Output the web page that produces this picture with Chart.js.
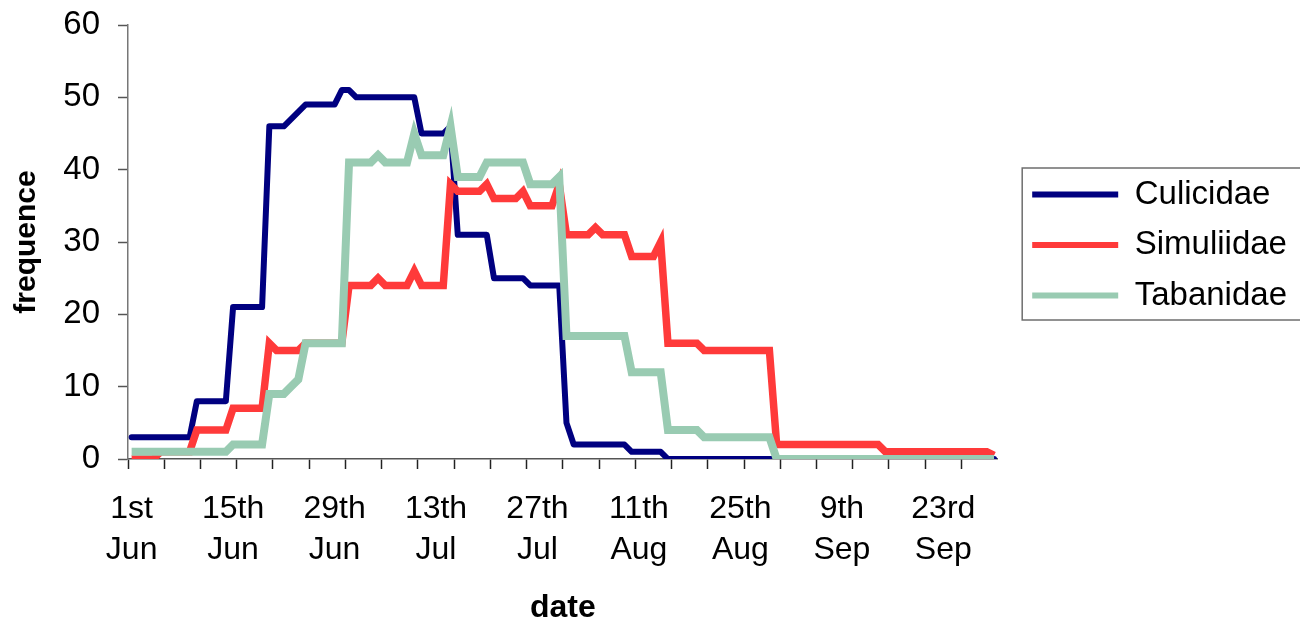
<!DOCTYPE html>
<html lang="en">
<head>
    <meta charset="UTF-8">
    <title>Frequence of Culicidae, Simuliidae and Tabanidae</title>
    <script src="https://cdn.jsdelivr.net/npm/chart.js"></script>
    <style>
        html, body { margin: 0; padding: 0; background: #fff; }
    </style>
</head>
<body>
    <canvas id="freqChart" width="1300" height="622"></canvas>
    <script>
        // one category per day of the season (120 days from 1st Jun)
        const days = Array.from({length: 120}, (_, i) => i);

        // labels shown every 14th day, tick marks every 5th day
        const tickLabels = [
            ['1st', 'Jun'], ['15th', 'Jun'], ['29th', 'Jun'], ['13th', 'Jul'], ['27th', 'Jul'],
            ['11th', 'Aug'], ['25th', 'Aug'], ['9th', 'Sep'], ['23rd', 'Sep']
        ];
        const labelStep = 14;
        const tickStep = 5;

        const culicidae = [
            3, 3, 3, 3, 3, 3, 3, 3, 3, 8,
            8, 8, 8, 8, 21, 21, 21, 21, 21, 46,
            46, 46, 47, 48, 49, 49, 49, 49, 49, 51,
            51, 50, 50, 50, 50, 50, 50, 50, 50, 50,
            45, 45, 45, 45, 46, 31, 31, 31, 31, 31,
            25, 25, 25, 25, 25, 24, 24, 24, 24, 24,
            5, 2, 2, 2, 2, 2, 2, 2, 2, 1,
            1, 1, 1, 1, 0, 0, 0, 0, 0, 0,
            0, 0, 0, 0, 0, 0, 0, 0, 0, 0,
            0, 0, 0, 0, 0, 0, 0, 0, 0, 0,
            0, 0, 0, 0, 0, 0, 0, 0, 0, 0,
            0, 0, 0, 0, 0, 0, 0, 0, 0, 0
        ];
        const simuliidae = [
            0, 0, 0, 0, 1, 1, 1, 1, 1, 4,
            4, 4, 4, 4, 7, 7, 7, 7, 7, 16,
            15, 15, 15, 15, 16, 16, 16, 16, 16, 16,
            24, 24, 24, 24, 25, 24, 24, 24, 24, 26,
            24, 24, 24, 24, 38, 37, 37, 37, 37, 38,
            36, 36, 36, 36, 37, 35, 35, 35, 35, 38,
            31, 31, 31, 31, 32, 31, 31, 31, 31, 28,
            28, 28, 28, 30, 16, 16, 16, 16, 16, 15,
            15, 15, 15, 15, 15, 15, 15, 15, 15, 2,
            2, 2, 2, 2, 2, 2, 2, 2, 2, 2,
            2, 2, 2, 2, 1, 1, 1, 1, 1, 1,
            1, 1, 1, 1, 1, 1, 1, 1, 1, 0.5
        ];
        const tabanidae = [
            1, 1, 1, 1, 1, 1, 1, 1, 1, 1,
            1, 1, 1, 1, 2, 2, 2, 2, 2, 9,
            9, 9, 10, 11, 16, 16, 16, 16, 16, 16,
            41, 41, 41, 41, 42, 41, 41, 41, 41, 45,
            42, 42, 42, 42, 46, 39, 39, 39, 39, 41,
            41, 41, 41, 41, 41, 38, 38, 38, 38, 39,
            17, 17, 17, 17, 17, 17, 17, 17, 17, 12,
            12, 12, 12, 12, 4, 4, 4, 4, 4, 3,
            3, 3, 3, 3, 3, 3, 3, 3, 3, 0,
            0, 0, 0, 0, 0, 0, 0, 0, 0, 0,
            0, 0, 0, 0, 0, 0, 0, 0, 0, 0,
            0, 0, 0, 0, 0, 0, 0, 0, 0, 0
        ];

        const fontFamily = "'Liberation Sans', Arial, sans-serif";

        // nudges the legend and draws the frame around it
        const legendFrame = {
            id: 'legendFrame',
            afterLayout(chart) {
                chart.legend.left += 17;
                chart.legend.right += 17;
                chart.legend.top += 3;
                chart.legend.bottom += 3;
            },
            afterDraw(chart) {
                const lg = chart.legend;
                const pad = lg.options.labels.padding;
                const colH = lg.columnSizes[0].height;
                const top = (lg.top + pad + lg.bottom - colH) / 2;
                const ctx = chart.ctx;
                ctx.save();
                ctx.strokeStyle = '#6e6e6e';
                ctx.lineWidth = 1.5;
                ctx.strokeRect(lg.left + pad - 10, top - 10, 400, colH - pad + 18);
                ctx.restore();
            }
        };

        const ctx = document.getElementById('freqChart').getContext('2d');
        new Chart(ctx, {
            type: 'line',
            data: {
                labels: days,
                datasets: [
                    {
                        label: 'Culicidae',
                        data: culicidae,
                        borderColor: '#000080',
                        backgroundColor: '#000080',
                        borderWidth: 6,
                        borderJoinStyle: 'round',
                        borderCapStyle: 'round',
                        order: 2
                    },
                    {
                        label: 'Simuliidae',
                        data: simuliidae,
                        borderColor: '#ff3a3a',
                        backgroundColor: '#ff3a3a',
                        borderWidth: 7.5,
                        borderJoinStyle: 'miter',
                        order: 1
                    },
                    {
                        label: 'Tabanidae',
                        data: tabanidae,
                        borderColor: '#99cbb2',
                        backgroundColor: '#99cbb2',
                        borderWidth: 8,
                        borderJoinStyle: 'miter',
                        order: 0
                    }
                ]
            },
            options: {
                responsive: false,
                animation: false,
                layout: { padding: { top: 25, right: 20, left: 0, bottom: 0 } },
                elements: {
                    point: { radius: 0, hoverRadius: 0 },
                    line: { tension: 0, fill: false }
                },
                plugins: {
                    tooltip: { enabled: false },
                    legend: {
                        position: 'right',
                        fullSize: false,
                        labels: {
                            boxWidth: 86,
                            boxHeight: 6,
                            padding: 17.5,
                            color: '#000',
                            font: { family: fontFamily, size: 33 },
                            sort: (a, b) => a.datasetIndex - b.datasetIndex,
                            generateLabels: (chart) =>
                                Chart.defaults.plugins.legend.labels.generateLabels(chart)
                                    .map(l => Object.assign(l, { lineWidth: 0, fillStyle: l.strokeStyle }))
                        }
                    }
                },
                scales: {
                    x: {
                        type: 'category',
                        offset: true,
                        grid: {
                            offset: true,
                            drawOnChartArea: false,
                            tickLength: 10,
                            tickWidth: 1.5,
                            tickColor: (c) => c.index % tickStep === 0 ? '#222' : 'rgba(0,0,0,0)'
                        },
                        border: { color: '#555', width: 1.5 },
                        ticks: {
                            autoSkip: false,
                            maxRotation: 0,
                            minRotation: 0,
                            padding: 19,
                            color: '#000',
                            font: { family: fontFamily, size: 32, lineHeight: 1.3 },
                            callback: (value, index) =>
                                index % labelStep === 0 ? tickLabels[index / labelStep] : ''
                        },
                        title: {
                            display: true,
                            text: 'date',
                            color: '#000',
                            font: { family: fontFamily, size: 32, weight: 'bold' },
                            padding: { top: -1.6, bottom: -5 }
                        }
                    },
                    y: {
                        min: 0,
                        max: 60,
                        grid: {
                            drawOnChartArea: false,
                            tickLength: 10,
                            tickWidth: 1.5,
                            tickColor: '#555'
                        },
                        border: { color: '#777', width: 1.5 },
                        ticks: {
                            stepSize: 10,
                            padding: 18,
                            color: '#000',
                            font: { family: fontFamily, size: 33, lineHeight: 0.4 }
                        },
                        title: {
                            display: true,
                            text: 'frequence',
                            color: '#000',
                            font: { family: fontFamily, size: 30, weight: 'bold' },
                            padding: { top: 9, bottom: 0.3 }
                        }
                    }
                }
            },
            plugins: [legendFrame]
        });
    </script>
</body>
</html>
